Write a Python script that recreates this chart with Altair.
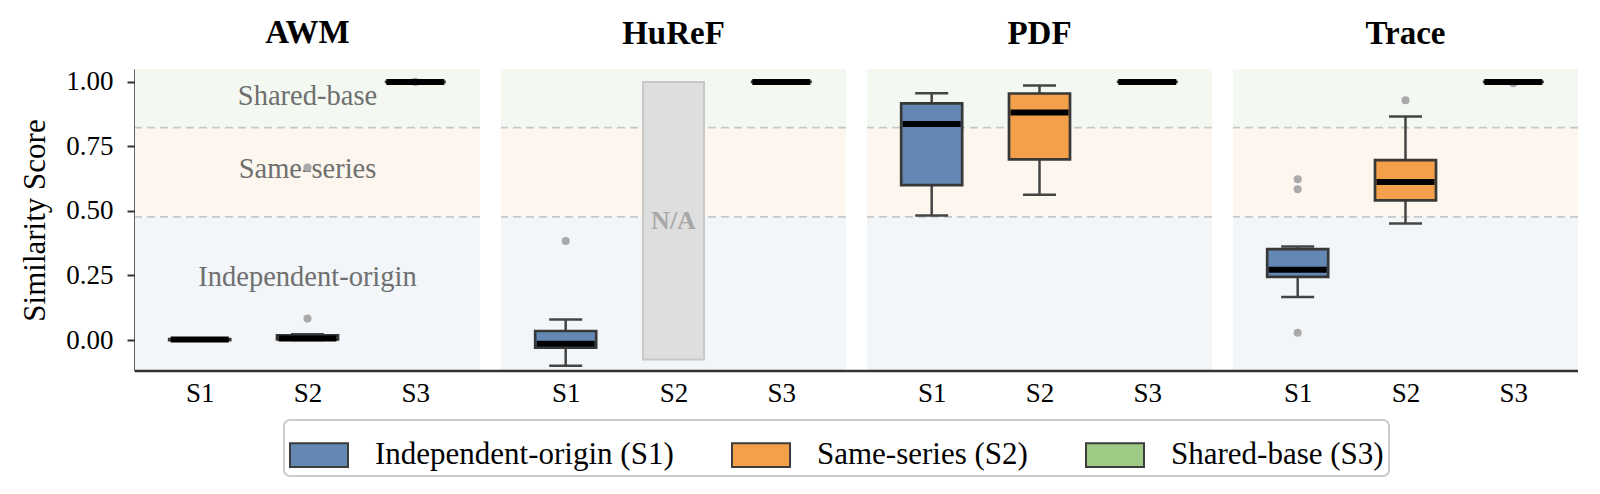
import altair as alt
import pandas as pd

FONT = "Liberation Serif"

methods = ["AWM", "HuReF", "PDF", "Trace"]
samples = ["S1", "S2", "S3"]
groups = ["Independent-origin (S1)", "Same-series (S2)", "Shared-base (S3)"]
group_colors = ["#6388b4", "#f4a04b", "#9ecb86"]

# box statistics, one list per method (order S1, S2, S3); None = not available
whisk_lo = {"AWM": [0.0, 0.0, 1.0], "HuReF": [-0.10, None, 1.0], "PDF": [0.482, 0.563, 1.0], "Trace": [0.167, 0.451, 1.0]}
q1 = {"AWM": [0.0, 0.002, 1.0], "HuReF": [-0.03, None, 1.0], "PDF": [0.600, 0.700, 1.0], "Trace": [0.245, 0.541, 1.0]}
median = {"AWM": [0.002, 0.006, 1.0], "HuReF": [-0.014, None, 1.0], "PDF": [0.837, 0.881, 1.0], "Trace": [0.272, 0.612, 1.0]}
q3 = {"AWM": [0.004, 0.018, 1.0], "HuReF": [0.035, None, 1.0], "PDF": [0.917, 0.955, 1.0], "Trace": [0.352, 0.697, 1.0]}
whisk_hi = {"AWM": [0.006, 0.022, 1.0], "HuReF": [0.08, None, 1.0], "PDF": [0.956, 0.986, 1.0], "Trace": [0.362, 0.866, 1.0]}

# outlier points (method, sample, value)
out_method = ["AWM", "AWM", "AWM", "HuReF", "Trace", "Trace", "Trace", "Trace", "Trace"]
out_sample = ["S2", "S2", "S3", "S1", "S1", "S1", "S1", "S2", "S3"]
out_value = [0.083, 0.668, 1.0, 0.384, 0.623, 0.584, 0.028, 0.929, 0.995]

# N/A placeholder (HuReF, S2)
na_method = "HuReF"
na_sample = "S2"
na_lo, na_hi = -0.075, 1.0

# similarity regions
band_names = ["Independent-origin", "Same-series", "Shared-base"]
band_lo = [-0.12, 0.477, 0.823]
band_hi = [0.477, 0.823, 1.05]
band_colors = ["#f2f6f9", "#fdf6ee", "#f3f8f1"]
band_label_y = [0.244, 0.663, 0.946]
thresholds = [0.477, 0.823]

Y_DOMAIN = [-0.12, 1.05]
PANEL_W = 345
PANEL_H = 302
GAP = 21

rows = []
for m in methods:
    for i, s in enumerate(samples):
        if q1[m][i] is None:
            continue
        rows.append({"method": m, "sample": s, "group": groups[i],
                     "lo": whisk_lo[m][i], "q1": q1[m][i], "med": median[m][i],
                     "q3": q3[m][i], "hi": whisk_hi[m][i]})
box_df = pd.DataFrame(rows)
out_df = pd.DataFrame({"method": out_method, "sample": out_sample, "value": out_value})
band_df = pd.DataFrame({"name": band_names, "lo": band_lo, "hi": band_hi,
                        "color": band_colors, "ly": band_label_y})
thr_df = pd.DataFrame({"t": thresholds})

yscale = alt.Scale(domain=Y_DOMAIN, nice=False, zero=False)
xscale = alt.Scale(type="point", domain=samples, padding=0.6)


def panel(m, first, last):
    if first:
        yaxis = alt.Axis(values=[0, 0.25, 0.5, 0.75, 1.0], format=".2f", grid=False,
                         tickSize=8, tickWidth=2, tickColor="#333333",
                         domainColor="#333333", domainWidth=2.5,
                         labelFontSize=27, labelPadding=14, labelColor="black", labelFont=FONT,
                         title="Similarity Score", titleFontSize=31, titleFont=FONT,
                         titleFontWeight="normal", titlePadding=14, titleColor="black")
    else:
        yaxis = None
    xaxis = alt.Axis(title=None, labelAngle=0, ticks=False, domain=False, labelFont=FONT,
                     labelFontSize=27, labelPadding=9, labelColor="black")

    bands = alt.Chart(band_df).mark_rect().encode(
        x=alt.value(0), x2=alt.value(PANEL_W),
        y=alt.Y("lo:Q", scale=yscale, axis=yaxis), y2="hi:Q",
        fill=alt.Fill("color:N", scale=None),
    )
    dashes = alt.Chart(thr_df).mark_rule(color="#c8c8c8", strokeWidth=1.6, strokeDash=[8, 5]).encode(
        y=alt.Y("t:Q", scale=yscale)
    )
    layers = [bands, dashes]

    if first:
        labels = alt.Chart(band_df).mark_text(fontSize=28.5, color="#6f6f6f", font=FONT).encode(
            x=alt.value(PANEL_W / 2), y=alt.Y("ly:Q", scale=yscale), text="name:N"
        )
        layers.append(labels)

    if m == na_method:
        na_df = pd.DataFrame({"sample": [na_sample], "lo": [na_lo], "hi": [na_hi],
                              "mid": [(na_lo + na_hi) / 2], "txt": ["N/A"]})
        na_rect = alt.Chart(na_df).mark_bar(size=61, fill="#dedede", stroke="#c8c8c8", strokeWidth=2).encode(
            x=alt.X("sample:N", scale=xscale, axis=xaxis),
            y=alt.Y("lo:Q", scale=yscale), y2="hi:Q",
        )
        na_txt = alt.Chart(na_df).mark_text(fontSize=26, fontWeight="bold", color="#a8a8a8", font=FONT).encode(
            x=alt.X("sample:N", scale=xscale), y=alt.Y("mid:Q", scale=yscale), text="txt:N"
        )
        layers += [na_rect, na_txt]

    d = box_df[box_df["method"] == m]
    od = out_df[out_df["method"] == m]

    pts = alt.Chart(od).mark_circle(size=65, color="#aaaaaa", opacity=1).encode(
        x=alt.X("sample:N", scale=xscale, axis=xaxis), y=alt.Y("value:Q", scale=yscale)
    )
    base = alt.Chart(d).encode(x=alt.X("sample:N", scale=xscale, axis=xaxis))
    whisk = base.mark_rule(color="#444444", strokeWidth=2.5).encode(
        y=alt.Y("lo:Q", scale=yscale), y2="hi:Q"
    )
    cap_lo = base.mark_tick(size=33, thickness=2.5, color="#444444", opacity=1).encode(
        y=alt.Y("lo:Q", scale=yscale)
    )
    cap_hi = base.mark_tick(size=33, thickness=2.5, color="#444444", opacity=1).encode(
        y=alt.Y("hi:Q", scale=yscale)
    )
    box = base.mark_bar(size=61, stroke="#383838", strokeWidth=2.7, opacity=1).encode(
        y=alt.Y("q1:Q", scale=yscale), y2="q3:Q",
        color=alt.Color("group:N", scale=alt.Scale(domain=groups, range=group_colors),
                        legend=alt.Legend(title=None)),
    )
    med = base.mark_tick(size=58, thickness=6, color="black", opacity=1).encode(
        y=alt.Y("med:Q", scale=yscale)
    )
    layers += [pts, whisk, cap_lo, cap_hi, box, med]

    if last:
        axis_line = alt.Chart(pd.DataFrame({"k": [0]})).mark_rule(color="#333333", strokeWidth=2.5).encode(
            x=alt.value(-3 * (PANEL_W + GAP)), x2=alt.value(PANEL_W), y=alt.value(PANEL_H)
        )
        layers.append(axis_line)

    return alt.layer(*layers).properties(
        width=PANEL_W, height=PANEL_H,
        title=alt.TitleParams(m, fontSize=33, fontWeight="bold", font=FONT, anchor="middle",
                              color="black", offset=18),
    )


panels = [panel(m, i == 0, i == len(methods) - 1) for i, m in enumerate(methods)]

chart = alt.hconcat(*panels, spacing=GAP, bounds="flush").properties(
    padding={"left": 11, "top": 8, "right": 5, "bottom": 5}
).configure(
    font=FONT
).configure_axis(
    labelFont=FONT, titleFont=FONT
).configure_title(
    font=FONT
).configure_view(
    stroke=None
).configure_legend(
    orient="none", legendX=149, legendY=351, direction="horizontal",
    symbolType="M-1,-0.41H1V0.41H-1Z", symbolSize=3364,
    symbolStrokeColor="#3d3d3d", symbolStrokeWidth=2, symbolOpacity=1,
    labelFontSize=31, labelFont=FONT, labelColor="black", labelOffset=26,
    columnPadding=54, padding=5, strokeColor="#cccccc", strokeWidth=2,
    cornerRadius=6, fillColor="white", labelLimit=0,
)

chart.save("out.html", embed_options={"renderer": "svg", "actions": False})
